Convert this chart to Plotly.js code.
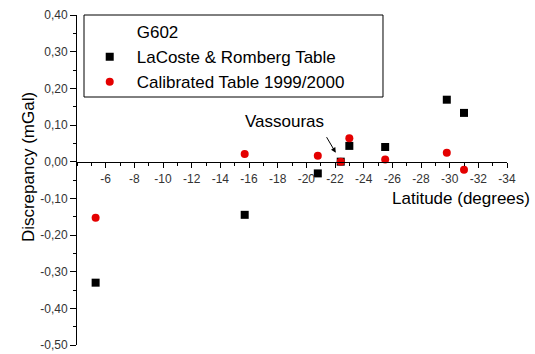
<!DOCTYPE html>
<html>
<head>
<meta charset="utf-8">
<script src="https://cdn.plot.ly/plotly-3.0.1.min.js"></script>
<style>html,body{margin:0;padding:0;background:#fff;}#chart{width:535px;height:354px;}</style>
</head>
<body>
<div id="chart"></div>
<script>
// Data
const latitude = [-5.3, -15.7, -20.8, -22.4, -23.0, -25.5, -29.8, -31.0];
const lacosteRomberg = [-0.33, -0.145, -0.032, 0.0, 0.043, 0.040, 0.169, 0.133];
const calibrated1999 = [-0.153, 0.021, 0.016, 0.0, 0.064, 0.006, 0.024, -0.022];

const xTickVals = [-6, -8, -10, -12, -14, -16, -18, -20, -22, -24, -26, -28, -30, -32, -34];
const xTickText = ['-6', '-8', '-10', '-12', '-14', '-16', '-18', '-20', '-22', '-24', '-26', '-28', '-30', '-32', '-34'];
const yTickVals = [0.4, 0.3, 0.2, 0.1, 0, -0.1, -0.2, -0.3, -0.4, -0.5];
const yTickText = ['0,40', '0,30', '0,20', '0,10', '0,00', '-0,10', '-0,20', '-0,30', '-0,40', '-0,50'];

const FONT = 'Liberation Sans, Arial, sans-serif';

const traces = [
  {
    x: [null], y: [null], name: 'G602', type: 'scatter', mode: 'markers',
    marker: {color: 'rgba(0,0,0,0)', size: 1}, hoverinfo: 'skip'
  },
  {
    x: latitude, y: lacosteRomberg, name: 'LaCoste & Romberg Table',
    type: 'scatter', mode: 'markers',
    marker: {symbol: 'square', color: '#000000', size: 8}
  },
  {
    x: latitude, y: calibrated1999, name: 'Calibrated Table 1999/2000',
    type: 'scatter', mode: 'markers',
    marker: {symbol: 'circle', color: 'rgb(228,0,0)', size: 8}
  }
];

const layout = {
  width: 535, height: 354,
  margin: {l: 77, r: 28, t: 15, b: 9, pad: 0},
  paper_bgcolor: '#ffffff', plot_bgcolor: '#ffffff',
  font: {family: FONT, color: '#000'},
  showlegend: true,
  legend: {
    x: 0.0133, y: 1.003, xanchor: 'left', yanchor: 'top',
    bgcolor: 'rgba(0,0,0,0)', borderwidth: 0,
    itemwidth: 44,
    font: {family: FONT, size: 17, color: '#000'}
  },
  xaxis: {
    range: [-4, -34],
    anchor: 'free', position: 0.5556,
    showline: true, linecolor: '#000', linewidth: 1,
    showgrid: false, zeroline: false,
    tickmode: 'array', tickvals: xTickVals, ticktext: xTickText,
    ticks: 'outside', ticklen: 5, tickcolor: '#000', tickwidth: 1,
    minor: {tickmode: 'linear', tick0: 0, dtick: 1, ticks: 'outside', ticklen: 3, tickcolor: '#000', tickwidth: 1},
    tickfont: {family: FONT, size: 12, color: '#333'},
    ticklabelstandoff: 1
  },
  yaxis: {
    range: [-0.5, 0.4],
    showline: true, linecolor: '#000', linewidth: 1,
    showgrid: false, zeroline: false,
    tickmode: 'array', tickvals: yTickVals, ticktext: yTickText,
    ticks: 'outside', ticklen: 6, tickcolor: '#000', tickwidth: 1,
    minor: {tickmode: 'linear', tick0: 0, dtick: 0.05, ticks: 'outside', ticklen: 3, tickcolor: '#000', tickwidth: 1},
    tickfont: {family: FONT, size: 12, color: '#333'}
  },
  shapes: [
    {type: 'rect', xref: 'paper', yref: 'paper', x0: 0.0163, x1: 0.7116, y0: 0.7515, y1: 1.0,
     line: {color: '#000', width: 1}, fillcolor: 'rgba(0,0,0,0)', layer: 'below'}
  ],
  annotations: [
    {text: 'Vassouras', xref: 'x', yref: 'y', x: -18.49, y: 0.109, showarrow: false,
     xanchor: 'center', yanchor: 'middle',
     font: {family: FONT, size: 17, color: '#000'}},
    {text: '', xref: 'x', yref: 'y', x: -22.05, y: 0.0245, showarrow: true,
     ax: -10, ay: -17, arrowhead: 2, arrowsize: 1, arrowwidth: 1, arrowcolor: '#000'},
    {text: 'Latitude (degrees)', xref: 'x', yref: 'y', x: -30.78, y: -0.101, showarrow: false,
     xanchor: 'center', yanchor: 'middle',
     font: {family: FONT, size: 17, color: '#000'}},
    {text: 'Discrepancy (mGal)', xref: 'paper', yref: 'paper', x: -0.114, y: 0.539, showarrow: false,
     xanchor: 'center', yanchor: 'middle',
     textangle: -90, font: {family: FONT, size: 17, color: '#000'}}
  ]
};

Plotly.newPlot('chart', traces, layout, {displayModeBar: false, staticPlot: true});
</script>
</body>
</html>
